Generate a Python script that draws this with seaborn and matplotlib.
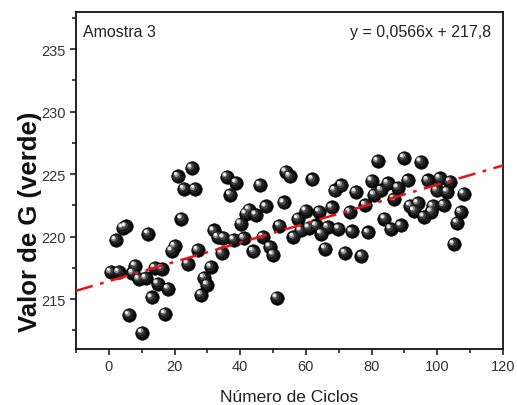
import matplotlib
matplotlib.use("Agg")
import matplotlib.pyplot as plt
import matplotlib.transforms as mtransforms
from matplotlib.ticker import MultipleLocator
import seaborn as sns
import pandas as pd

# ---- data ----
cycles = [0.6, 3.0, 2.1, 4.2, 5.2, 8.0, 7.2, 9.1, 11.3, 14.0,
          16.1, 14.9, 18.1, 13.1, 6.2, 17.1, 10.1, 12.0, 19.2, 20.1,
          21.1, 25.2, 22.9, 26.2, 22.1, 27.0, 24.0, 31.1, 29.0, 29.9,
          28.1, 32.0, 33.1, 34.9, 34.3, 35.9, 38.8, 37.0, 38.1, 41.1,
          40.1, 41.7, 42.7, 44.8, 46.1, 47.8, 44.0, 46.9, 49.0, 50.0,
          51.1, 51.9, 53.2, 53.9, 55.1, 56.2, 57.6, 58.5, 60.0, 60.8,
          62.0, 63.1, 64.1, 64.7, 65.9, 66.7, 67.9, 68.8, 70.8, 69.9,
          71.9, 73.4, 74.0, 75.2, 76.9, 78.1, 78.9, 80.0, 80.8, 81.9,
          82.9, 83.9, 84.9, 85.9, 86.9, 87.9, 88.9, 89.9, 91.0, 91.7,
          93.0, 94.0, 95.0, 95.9, 97.1, 98.2, 98.6, 99.8, 100.7, 102.0,
          103.0, 103.9, 105.0, 106.0, 107.2, 108.0]
g_values = [217.14, 217.14, 219.72, 220.70, 220.81, 217.67, 217.06, 216.59, 216.67, 217.47,
            217.41, 216.23, 215.83, 215.13, 213.72, 213.82, 212.32, 220.22, 218.88, 219.23,
            224.82, 225.48, 223.80, 223.80, 221.43, 218.92, 217.81, 217.54, 216.69, 216.13,
            215.35, 220.49, 219.95, 219.90, 218.66, 224.77, 224.32, 223.35, 219.74, 219.88,
            221.02, 221.83, 222.15, 221.75, 224.12, 222.41, 218.82, 219.95, 219.20, 218.56,
            215.10, 220.85, 222.73, 225.17, 224.82, 219.95, 221.43, 220.49, 222.07, 220.69,
            224.58, 220.89, 222.00, 220.24, 219.02, 220.75, 222.33, 223.70, 224.10, 220.62,
            218.68, 221.96, 220.41, 223.56, 218.44, 222.52, 220.33, 224.48, 223.35, 226.03,
            223.70, 221.43, 224.26, 220.62, 223.00, 223.90, 220.89, 226.29, 224.50, 222.45,
            222.05, 222.68, 225.97, 221.59, 224.50, 221.97, 222.44, 223.70, 224.66, 222.52,
            223.58, 224.40, 219.39, 221.10, 221.96, 223.43]
# fitted line as drawn in the picture (x range spans the whole axis)
fit_x = [-10, 120]
fit_slope = 0.0772
fit_intercept = 216.43
sample_label = "Amostra 3"
equation_label = "y = 0,0566x + 217,8"
x_label = "Número de Ciclos"
y_label = "Valor de G (verde)"
x_ticks = [0, 20, 40, 60, 80, 100, 120]
y_ticks = [215, 220, 225, 230, 235]

df = pd.DataFrame({"ciclos": cycles, "g": g_values})
fit_df = pd.DataFrame({"x": fit_x, "y": [fit_intercept + fit_slope * v for v in fit_x]})

sns.set_style("ticks")
plt.rcParams["font.family"] = ["Liberation Sans", "DejaVu Sans"]

fig = plt.figure(figsize=(5.17, 4.06), dpi=100)
ax = fig.add_axes([76 / 517, 1 - 350 / 406, (503 - 76) / 517, (350 - 12.7) / 406])

# base black balls
sns.scatterplot(data=df, x="ciclos", y="g", ax=ax, s=95, color="#080808",
                edgecolor="#000000", linewidth=0.4, zorder=3, legend=False)
# shading layers to give a glossy sphere look
layers = [(55, "#1e1e1e", -0.8, 0.8), (26, "#444444", -1.8, 1.8),
          (12, "#9a9a9a", -2.5, 2.5), (5, "#e6e6e6", -2.9, 2.9),
          (1.5, "#ffffff", -3.0, 3.0)]
for size, col, dx, dy in layers:
    tr = mtransforms.offset_copy(ax.transData, fig=fig, x=dx, y=dy, units="dots")
    sns.scatterplot(data=df, x="ciclos", y="g", ax=ax, s=size, color=col,
                    linewidth=0, zorder=4, legend=False, transform=tr)

sns.lineplot(data=fit_df, x="x", y="y", ax=ax, color="#e8141c", linewidth=1.8,
             zorder=5, legend=False)
ax.lines[-1].set_dashes([7, 3, 1.5, 3])

ax.set_xlim(-10, 120)
ax.set_ylim(211, 238)
ax.set_xticks(x_ticks)
ax.set_yticks(y_ticks)
ax.xaxis.set_minor_locator(MultipleLocator(10))
ax.yaxis.set_minor_locator(MultipleLocator(2.5))
ax.tick_params(which="major", direction="out", length=4.5, width=1.2,
               labelsize=10.5, colors="#222222", pad=3)
ax.tick_params(which="minor", direction="out", length=2.8, width=1.2)
ax.tick_params(axis="both", labelcolor="#333333")
for sp in ax.spines.values():
    sp.set_visible(True)
    sp.set_linewidth(1.3)
    sp.set_color("#111111")

ax.set_xlabel(x_label, fontsize=12.5, color="#222222", labelpad=11)
ax.set_ylabel(y_label, fontsize=18.5, fontweight="bold", color="#111111")
ax.yaxis.set_label_coords(-0.08, 0.38)

ax.text(0.016, 0.942, sample_label, transform=ax.transAxes, fontsize=11.5,
        ha="left", va="center", color="#222222")
ax.text(0.972, 0.942, equation_label, transform=ax.transAxes, fontsize=11.5,
        ha="right", va="center", color="#222222")

fig.savefig("out.png", dpi=100)
